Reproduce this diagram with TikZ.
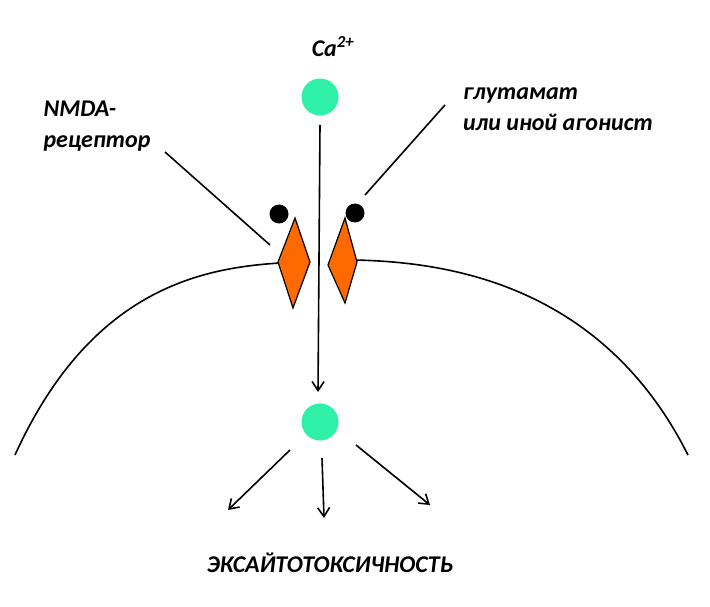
\documentclass[tikz,border=0pt]{standalone}
\usepackage{fontspec}
\setmainfont{Carlito}
\usetikzlibrary{arrows.meta}
\definecolor{ionmint}{HTML}{2EF0A6}
\definecolor{receporange}{HTML}{FF6A00}
\tikzset{ion/.style={circle,fill=ionmint,draw=none,minimum size=37pt,inner sep=0pt}}
\tikzset{ligand/.style={circle,fill=black,minimum size=19pt,inner sep=0pt}}
\tikzset{label/.style={font=\fontsize{24}{31}\selectfont\bfseries\itshape,align=left}}
\tikzset{flow/.style={line width=1.6pt,-{Straight Barb[length=9pt,width=12pt]}}}
\begin{document}
\begin{tikzpicture}[x=1pt,y=-1pt]
    \useasboundingbox (0,0) rectangle (710,607);

    \node[label] (ca) at (333,47) {Ca\textsuperscript{2+}};
    \node[ion] (ionA) at (320,97) {};
    \node[ion] (ionB) at (320,422) {};
    \coordinate (ionBtop) at (318,392);
    \draw[flow] (320,125) -- (ionBtop);

    % membrane
    \draw[line width=1.6pt] (15,455) .. controls (90,290) and (200,268) .. (280,263);
    \draw[line width=1.6pt] (355,260) .. controls (440,262) and (600,280) .. (688,455);

    % receptor halves
    \draw[fill=receporange,line width=1.2pt] (295,218) -- (310,262) -- (293,308) -- (278,262) -- cycle;
    \draw[fill=receporange,line width=1.2pt] (345,218) -- (357,262) -- (345,303) -- (328,265) -- cycle;
    \node[ligand] (dotL) at (279,214) {};
    \node[ligand] (dotR) at (355,213) {};

    \node[label] (nmda) at (97,126) {NMDA-\\рецептор};
    \node[label] (agon) at (558,109) {глутамат\\или иной агонист};
    \coordinate (nmdaTip) at (270,245);
    \coordinate (agonTip) at (365,195);
    \draw[line width=1.6pt] (165,152) -- (nmdaTip);
    \draw[line width=1.6pt] (445,105) -- (agonTip);

    % effects
    \coordinate (effL) at (228,510);
    \coordinate (effM) at (324,518);
    \coordinate (effR) at (430,505);
    \draw[flow] (290,450) -- (effL);
    \draw[flow] (322,458) -- (effM);
    \draw[flow] (356,445) -- (effR);
    \node[label] (exc) at (330,563) {ЭКСАЙТОТОКСИЧНОСТЬ};
\end{tikzpicture}
\end{document}
